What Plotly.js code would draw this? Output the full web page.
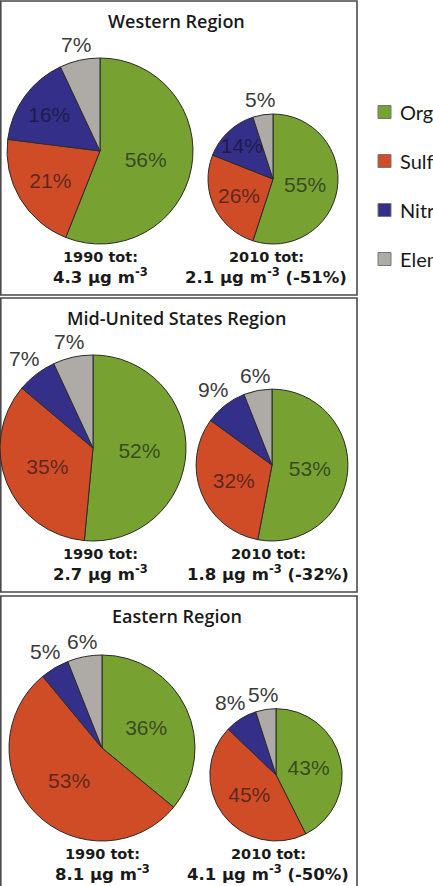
<!DOCTYPE html>
<html>
<head>
<meta charset="utf-8">
<script src="https://cdn.plot.ly/plotly-3.0.1.min.js"></script>
<style>
  html, body { margin: 0; padding: 0; background: #fff; }
  #chart { width: 433px; height: 886px; }
</style>
</head>
<body>
<div id="chart"></div>
<script>
// PM2.5 composition by region, 1990 vs 2010
const components = ['Organic', 'Sulfate', 'Nitrate', 'Elemental Carbon'];
const componentColors = ['#77a131', '#d04c27', '#34308a', '#aeaaa6'];
const regions = ['Western Region', 'Mid-United States Region', 'Eastern Region'];

// Percent share of each component (Organic, Sulfate, Nitrate, Elemental)
const westShare1990 = [56, 21, 16, 7];
const westShare2010 = [55, 26, 14, 5];
const midShare1990 = [52, 35, 7, 7];
const midShare2010 = [53, 32, 9, 6];
const eastShare1990 = [36, 53, 5, 6];
const eastShare2010 = [43, 45, 8, 5];

// Total concentration (µg m-3) and change 1990 -> 2010 (%)
const total1990 = [4.3, 2.7, 8.1];
const total2010 = [2.1, 1.8, 4.1];
const change2010 = [-51, -32, -50];

const shares1990 = [westShare1990, midShare1990, eastShare1990];
const shares2010 = [westShare2010, midShare2010, eastShare2010];

// ---- page geometry (pixels) ----
const W = 433, H = 886;
const px = x => x / W;
const py = y => 1 - y / H;

const panelTop = [1, 298, 596];
const panelBottom = [295, 592, 900];
const panelRight = 357;
const titleY = [21, 318, 616];
const titleX = [176, 176, 177];
const baseRadius = 93;
const center1990 = [[100, 151], [93, 448], [102, 748]];
const center2010X = [273, 272, 276];
const label1990X = [100, 100, 102];
const label2010X = [266, 268, 268];
const smallShare = 10;   // slices below this share carry their label outside

const labelFont = 'Liberation Sans, Arial, sans-serif';
const traces = [];
const shapes = [];
const annotations = [];

function pieTrace(values, cx, cy, r) {
  return {
    type: 'pie',
    values: values,
    labels: components,
    sort: false,
    direction: 'clockwise',
    rotation: 0,
    automargin: false,
    showlegend: false,
    domain: { x: [px(cx - r), px(cx + r)], y: [py(cy + r), py(cy - r)] },
    marker: { colors: componentColors, line: { color: '#2b2b2b', width: 1 } },
    texttemplate: '%{value}%',
    textposition: values.map(v => (v < smallShare ? 'none' : 'inside')),
    insidetextorientation: 'horizontal',
    insidetextfont: { family: labelFont, size: 21, color: 'rgba(15,15,25,0.62)' },
    hoverinfo: 'label+percent'
  };
}

// labels for thin slices sit just beyond the rim, along the slice's middle angle
function outsideLabels(values, cx, cy, r) {
  const sum = values.reduce((a, b) => a + b, 0);
  let cum = 0;
  values.forEach(v => {
    const mid = (cum + v / 2) / sum * 2 * Math.PI;
    cum += v;
    if (v >= smallShare) return;
    const s = Math.sin(mid), c = Math.cos(mid);
    const d = r + 4 + Math.abs(s) * 15 + Math.abs(c) * 9;
    annotations.push({
      xref: 'paper', yref: 'paper', x: px(cx + d * s), y: py(cy - d * c),
      xanchor: 'center', yanchor: 'middle', showarrow: false, text: v + '%',
      font: { family: labelFont, size: 21, color: '#3a3a3a' }
    });
  });
}

regions.forEach((name, i) => {
  const [cx, cy] = center1990[i];
  const r2 = baseRadius * Math.sqrt(total2010[i] / total1990[i]);
  const cy2 = cy + baseRadius - r2;
  traces.push(pieTrace(shares1990[i], cx, cy, baseRadius));
  traces.push(pieTrace(shares2010[i], center2010X[i], cy2, r2));
  outsideLabels(shares1990[i], cx, cy, baseRadius);
  outsideLabels(shares2010[i], center2010X[i], cy2, r2);

  // panel frame
  shapes.push({
    type: 'rect', xref: 'paper', yref: 'paper',
    x0: px(0.8), x1: px(panelRight), y0: py(panelBottom[i]), y1: py(panelTop[i]),
    line: { color: '#4a4a4a', width: 1.6 }, fillcolor: 'rgba(0,0,0,0)', layer: 'below'
  });

  annotations.push({
    xref: 'paper', yref: 'paper', x: px(titleX[i]), y: py(titleY[i]),
    xanchor: 'center', yanchor: 'middle', showarrow: false, text: name,
    font: { family: 'Open Sans, sans-serif', size: 18, weight: 600, color: '#1a1a1a' }
  });

  const yLine1 = cy + baseRadius + 13;
  const yLine2 = yLine1 + 19;
  const totFont1 = { family: 'DejaVu Sans, sans-serif', size: 14.5, weight: 700, color: '#1a1a1a' };
  const totFont2 = { family: 'DejaVu Sans, sans-serif', size: 16.5, weight: 700, color: '#1a1a1a' };
  annotations.push({
    xref: 'paper', yref: 'paper', x: px(label1990X[i]), y: py(yLine1),
    xanchor: 'center', yanchor: 'middle', showarrow: false,
    text: '1990 tot:', font: totFont1
  });
  annotations.push({
    xref: 'paper', yref: 'paper', x: px(label1990X[i]), y: py(yLine2),
    xanchor: 'center', yanchor: 'middle', showarrow: false,
    text: total1990[i].toFixed(1) + ' µg m<sup>-3</sup>', font: totFont2
  });
  annotations.push({
    xref: 'paper', yref: 'paper', x: px(label2010X[i]), y: py(yLine1),
    xanchor: 'center', yanchor: 'middle', showarrow: false,
    text: '2010 tot:', font: totFont1
  });
  annotations.push({
    xref: 'paper', yref: 'paper', x: px(label2010X[i]), y: py(yLine2),
    xanchor: 'center', yanchor: 'middle', showarrow: false,
    text: total2010[i].toFixed(1) + ' µg m<sup>-3</sup> (' + change2010[i] + '%)', font: totFont2
  });
});

// component key on the right
const keyY = [112, 161, 210, 259];
components.forEach((c, k) => {
  shapes.push({
    type: 'rect', xref: 'paper', yref: 'paper',
    x0: px(378), x1: px(391), y0: py(keyY[k] + 6.5), y1: py(keyY[k] - 6.5),
    fillcolor: componentColors[k], line: { color: '#777', width: 1 }
  });
  annotations.push({
    xref: 'paper', yref: 'paper', x: px(398), y: py(keyY[k]),
    xanchor: 'left', yanchor: 'middle', showarrow: false, text: c,
    font: { family: 'Lato, Carlito, sans-serif', size: 20, color: '#1a1a1a' }
  });
});

const layout = {
  width: W, height: H,
  margin: { l: 0, r: 0, t: 0, b: 0 },
  paper_bgcolor: '#fff',
  showlegend: false,
  uniformtext: { minsize: 21, mode: 'show' },
  shapes: shapes,
  annotations: annotations
};

Plotly.newPlot('chart', traces, layout, { displayModeBar: false, staticPlot: true });
</script>
</body>
</html>
